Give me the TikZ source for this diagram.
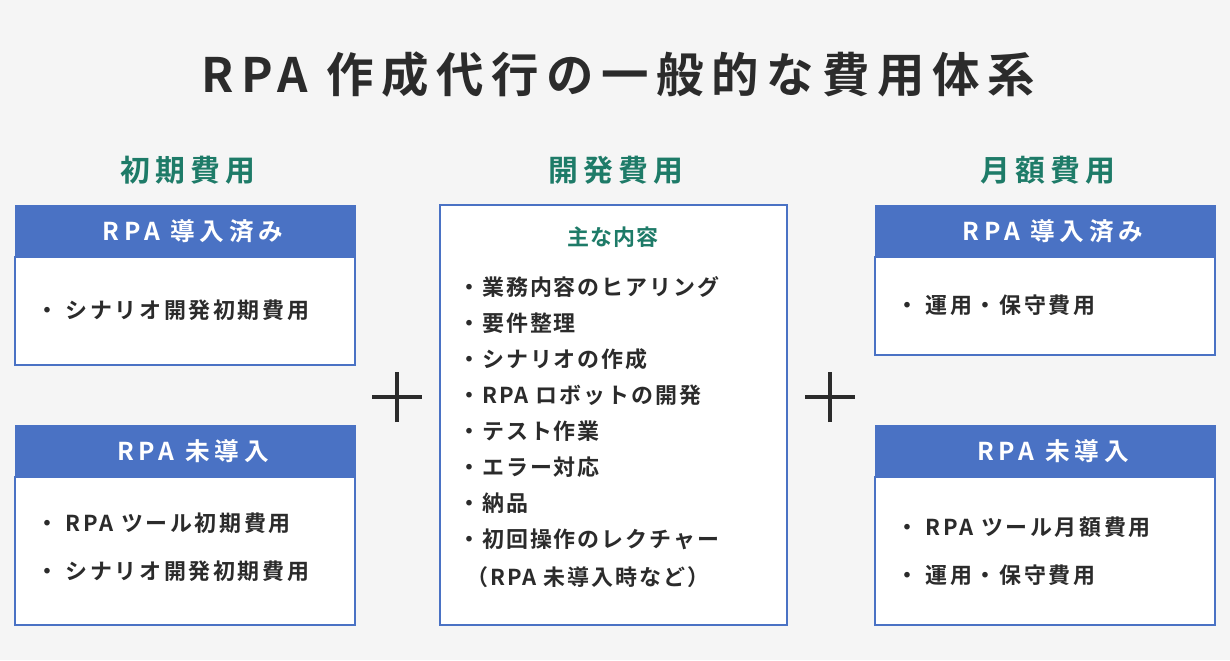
\documentclass[tikz,border=0pt]{standalone}
\usepackage{fontspec}
\setmainfont{Noto Sans CJK JP}[BoldFont={* Bold}]
\usetikzlibrary{positioning}
\definecolor{bgGray}{HTML}{F5F5F5}
\definecolor{boxBlue}{HTML}{4A72C4}
\definecolor{headTeal}{HTML}{1E7B68}
\definecolor{inkGray}{HTML}{2B2B2B}
\tikzset{
  headBox/.style={fill=boxBlue,draw=boxBlue,text=white,font=\bfseries\fontsize{14}{15}\selectfont\addfontfeatures{LetterSpace=20}},
  bodyBox/.style={fill=white,draw=boxBlue,line width=0.7pt},
  catHead/.style={text=headTeal,font=\bfseries\fontsize{17}{18}\selectfont\addfontfeatures{LetterSpace=17}},
  item/.style={anchor=west,text=inkGray,font=\bfseries\fontsize{12.5}{13}\selectfont\addfontfeatures{LetterSpace=12}},
  plusSign/.style={line width=2pt,draw=inkGray}
}
\begin{document}
\begin{tikzpicture}[x=0.02cm,y=-0.02cm]
      \fill[bgGray] (0,0) rectangle (1230,660);
      \useasboundingbox (0,0) rectangle (1230,660);
      % Title
      \node[text=inkGray,font=\bfseries\fontsize{27}{28}\selectfont\addfontfeatures{LetterSpace=16}] (title) at (618,75) {RPA 作成代行の一般的な費用体系};
      % Category headings
      \node[catHead] (initial) at (188,170) {初期費用};
      \node[catHead] (devel) at (616,170) {開発費用};
      \node[catHead] (monthly) at (1048,170) {月額費用};
      % Left column
      \draw[bodyBox] (15,257) rectangle (355,365);
      \draw[headBox] (15,205) rectangle (355,257);
      \node[headBox,draw=none] (iA) at (193,231) {RPA 導入済み};
      \node[item] (iA1) at (30,310) {・ シナリオ開発初期費用};
      \draw[bodyBox] (15,477) rectangle (355,625);
      \draw[headBox] (15,425) rectangle (355,477);
      \node[headBox,draw=none] (iB) at (193,451) {RPA 未導入};
      \node[item] (iB1) at (30,523) {・ RPA ツール初期費用};
      \node[item] (iB2) at (30,571) {・ シナリオ開発初期費用};
      % Middle column
      \draw[bodyBox] (440,205) rectangle (787,625);
      \node[text=headTeal,font=\bfseries\fontsize{12.5}{13}\selectfont\addfontfeatures{LetterSpace=6}] (dHead) at (613,237) {主な内容};
      \foreach \t [count=\i] in {業務内容のヒアリング,要件整理,シナリオの作成,RPA ロボットの開発,テスト作業,エラー対応,納品,初回操作のレクチャー}
        \node[item,font=\bfseries\fontsize{12.5}{13}\selectfont\addfontfeatures{LetterSpace=9}] (d\i) at (452,251+36*\i) {・\t};
      \node[item,font=\bfseries\fontsize{12.5}{13}\selectfont\addfontfeatures{LetterSpace=9}] (d9) at (460,577) {（RPA 未導入時など）};
      % Right column
      \draw[bodyBox] (875,257) rectangle (1215,355);
      \draw[headBox] (875,205) rectangle (1215,257);
      \node[headBox,draw=none] (mA) at (1053,231) {RPA 導入済み};
      \node[item] (mA1) at (890,305) {・ 運用・保守費用};
      \draw[bodyBox] (875,477) rectangle (1215,625);
      \draw[headBox] (875,425) rectangle (1215,477);
      \node[headBox,draw=none] (mB) at (1053,451) {RPA 未導入};
      \node[item] (mB1) at (890,527) {・ RPA ツール月額費用};
      \node[item] (mB2) at (890,575) {・ 運用・保守費用};
      % Plus signs
      \foreach \px/\nm in {397/plusL,830/plusR} {
        \coordinate (\nm) at (\px,397);
        \draw[plusSign] ([xshift=-0.5cm]\nm) -- ([xshift=0.5cm]\nm);
        \draw[plusSign] ([yshift=-0.5cm]\nm) -- ([yshift=0.5cm]\nm);
      }
\end{tikzpicture}
\end{document}
